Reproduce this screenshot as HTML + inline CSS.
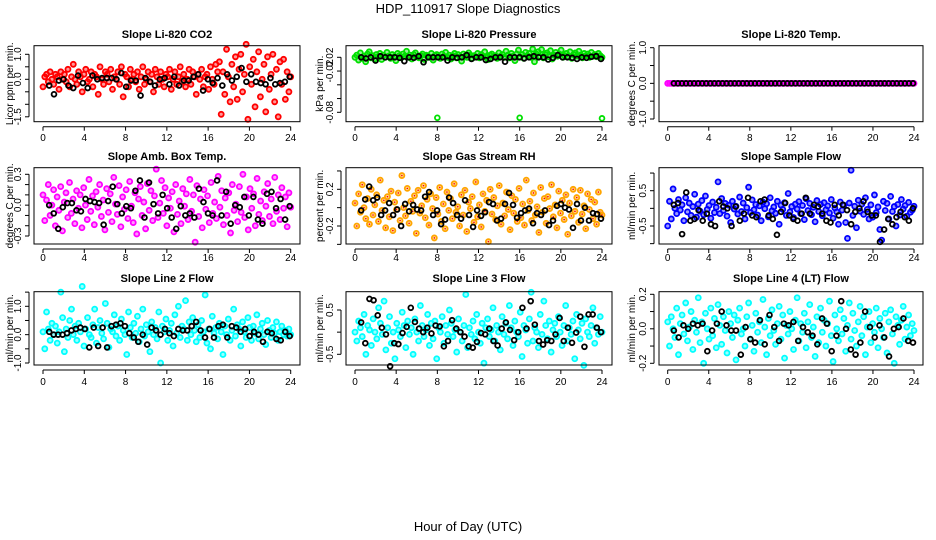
<!DOCTYPE html>
<html><head><meta charset="utf-8"><style>
body{margin:0;background:#fff}
svg{display:block;font-family:"Liberation Sans",sans-serif}
</style></head><body>
<svg id="chart" width="936" height="540" viewBox="0 0 936 540">
<text x="468" y="13" text-anchor="middle" font-size="13">HDP_110917  Slope Diagnostics</text>
<text x="468" y="531" text-anchor="middle" font-size="13">Hour of Day (UTC)</text>
</svg>
<script>
const hourTicks=[0,4,8,12,16,20,24];
const co2Vals=[-.3,.1,.2,-.1,.3,.0,-.2,.2,.1,-.4,.3,.0,.2,-.1,.4,-.3,.1,.6,.0,-.2,.3,.1,-.5,.2,.4,-.1,.0,.3,-.3,.2,.1,-.6,.5,.0,-.2,.3,.2,-.1,.4,-.4,.1,.0,.3,-.2,.5,-.7,.2,.1,-.3,.4,.0,.2,-.1,.3,-.4,.1,.5,-.2,.0,.3,-.1,.2,-.5,.4,.1,-.2,.3,.0,-.3,.2,.1,.4,-.4,.0,.3,-.2,.1,.5,-.1,.2,-.3,.0,.4,-.2,.3,.1,-.6,.2,.0,.4,-.3,.1,.2,-.4,.5,.0,-.2,.6,.3,.7,-1.4,.3,-.6,1.2,.1,-.9,.6,-.3,.9,-.8,.4,1.0,-.5,.2,1.4,-1.6,.5,-.2,.8,-1.1,.3,1.1,-.7,.0,.6,-1.3,.9,-.4,.2,1.0,-.9,.4,-1.5,.7,-.2,.8,-.8,.3,-.5,.1];
const co2Black=[-.25,-.6,-.05,.0,-.25,-.35,.15,-.15,-.35,.15,.0,.05,.05,.05,.0,.25,-.3,-.05,-.05,-.65,.05,-.1,-.25,.0,.05,-.2,.1,-.25,-.05,-.05,.1,.2,-.45,.0,-.15,.05,-.25,.2,-.05,.1,.45,-.1,.2,-.1,-.15,-.2,.05,-.2,-.15,-.1,.1];
const pressMilli=[20,24,15,28,18,22,12,26,30,19,23,17,25,21,27,16,24,20,29,22,18,25,21,14,27,23,19,26,22,31,20,24,17,25,28,21,19,23,26,16,24,22,20,27,15,23,25,21,18,26,22,29,20,24,17,23,27,19,25,21,13,26,22,20,28,24,18,23,21,27,19,25,22,30,20,16,24,26,21,23,18,28,22,25,20,31,24,19,27,22,14,26,33,21,25,18,29,23,27,20,35,12,26,30,22,34,19,25,28,21,32,17,24,29,22,26,33,20,23,27,21,30,18,25,28,22,31,24,19,27,23,26,20,29,22,25,21,27,23,20];
const pressBlackMilli=[20,18,20,14,22,20,20,20,19,13,20,19,22,11,20,20,20,20,14,20,19,20,24,17,20,20,15,17,20,20,12,20,20,20,18,20,22,20,20,16,19,24,20,20,19,17,20,19,21,22,17];
const pressOutHours=[8,16,24];
const pressOutMilli=[-90,-90,-91];
const tempVals=[0,0,0,0,0,0,0,0,0,0,0,0,0,0,0,0,0,0,0,0,0,0,0,0,0,0,0,0,0,0,0,0,0,0,0,0,0,0,0,0,0,0,0,0,0,0,0,0,0,0,0,0,0,0,0,0,0,0,0,0,0,0,0,0,0,0,0,0,0,0,0,0,0,0,0,0,0,0,0,0,0,0,0,0,0,0,0,0,0,0,0,0,0,0,0,0,0,0,0,0,0,0,0,0,0,0,0,0,0,0,0,0,0,0,0,0,0,0,0,0,0,0,0,0,0,0,0,0,0,0];
const tempBlack=[0,0,0,0,0,0,0,0,0,0,0,0,0,0,0,0,0,0,0,0,0,0,0,0,0,0,0,0,0,0,0,0,0,0,0,0,0,0,0,0,0,0,0,0,0,0,0,0,0,0,0,0,0,0,0,0,0,0,0,0];
const ambCenti=[10,-15,5,20,-10,0,15,-20,8,-5,18,-25,3,12,-12,22,-8,6,-18,14,-3,10,-22,17,0,-14,25,-6,9,-19,13,-2,20,-11,5,-24,16,-7,11,-16,27,1,-9,19,-21,8,-4,15,-13,23,-1,-17,12,-28,6,18,-10,3,-23,21,-5,14,-15,9,35,-12,2,24,-8,17,-20,7,-3,13,-26,20,-9,4,-18,16,-1,11,-14,25,-6,10,-36,19,-11,6,-22,15,-4,9,-17,22,-8,3,-13,28,-2,14,-19,7,-10,12,-27,20,-5,1,-16,18,-7,30,-12,8,-24,16,-3,11,-20,26,-9,4,-15,13,-1,21,-11,6,-18,27,-6,10,-14,17,-3,8,-21,12,-2];
const ambBlackCenti=[0,-8,-23,-2,2,2,-5,-6,6,4,3,2,-19,4,18,1,-8,-1,-3,14,24,-12,22,1,-8,10,-3,-12,-23,-1,-10,-8,-12,16,3,-8,-10,24,-10,13,-18,0,-2,8,-10,8,-14,-18,11,13,-3,6,-14,-1];
const rhCenti=[5,-20,15,-5,25,0,-12,10,-18,20,-8,3,14,-15,30,-3,8,-22,12,-10,18,-25,6,-2,16,-14,35,0,-9,21,-17,7,-4,13,-28,19,-6,2,24,-11,9,-19,15,-1,-33,11,-7,22,-15,4,-23,17,-3,10,-12,26,-5,1,-20,14,-8,19,-26,6,-1,12,-16,28,-10,3,-21,15,-4,8,-37,20,-7,11,-13,2,24,-18,5,-9,17,-2,-24,13,-6,9,-15,21,-11,4,-19,30,-3,7,-14,16,-8,1,-27,22,-5,10,-17,12,-1,25,-10,3,-22,18,-6,8,-13,14,-29,5,-9,20,-4,11,-16,19,-7,2,-23,15,-2,9,-12,6,-18,17,-5,-8];
const rhBlackCenti=[-3,9,23,8,11,-8,-3,5,-8,-2,-20,4,-4,3,-2,-3,12,17,-8,-3,-18,-13,11,5,-8,-12,8,-8,-21,-3,-9,-5,6,4,-14,-12,4,16,3,-11,-6,-3,-1,-17,-6,-8,-3,-19,-14,2,4,0,-2,-22,4,-14,0,-14,-6,-7,-12];
const sampleCenti=[-50,20,-30,55,0,-15,25,-5,10,-35,30,-10,15,-20,5,40,-25,12,-8,22,-18,35,-3,8,-28,18,-12,3,75,-15,28,-6,14,-22,9,-40,20,-2,6,-16,32,-9,15,-30,2,60,-12,24,-4,11,-19,7,-35,18,-1,13,-24,30,-7,4,-14,20,-45,9,-3,16,-20,42,-10,5,-26,12,-2,19,-15,8,-32,27,-6,14,-18,3,-38,22,-9,11,-21,16,-4,7,-13,25,-28,1,-10,-45,18,-5,9,-40,-85,15,108,-20,6,-55,23,-8,12,-17,30,-3,-30,10,-25,38,-12,4,-60,-90,20,-6,14,-30,34,-9,5,-50,11,-19,25,-2,8,-22,17,-11,-5,6];
const sampleBlackCenti=[10,15,-73,45,-35,-30,-5,-35,-15,-45,-50,20,5,0,-50,5,-35,-15,30,-20,-25,20,25,-20,-30,-75,-10,15,-20,-30,-35,-15,30,-15,10,5,-15,-35,-40,10,-20,10,-5,-45,-10,0,20,-10,-20,-20,-95,-60,-30,-45,-25,-10,-25,-35,0];
const line2Centi=[10,-50,80,20,-20,40,0,30,-30,10,150,60,-60,20,-10,50,90,0,30,-20,40,10,170,-40,20,60,0,-10,35,90,-30,25,50,5,-15,110,40,-45,20,10,70,-5,30,-20,55,15,0,-70,80,25,-10,40,5,65,-25,20,90,-5,35,10,-60,45,0,25,-15,80,-100,30,10,55,-20,15,40,-40,70,5,100,-10,30,20,120,-20,45,0,60,15,-25,35,-10,50,10,140,-30,20,-50,65,5,25,-15,40,10,-70,30,0,55,-20,15,90,-5,35,20,-40,45,10,-10,60,25,-20,30,5,70,-15,20,40,0,-35,50,15,-10,25,5,45,-20,10,30,0,15,-5,20,0];
const line2BlackCenti=[10,0,0,0,5,15,20,25,20,-45,25,-40,25,-45,30,35,40,30,5,-10,-25,0,-35,25,15,0,20,5,-5,20,15,15,30,45,15,-10,20,-10,30,35,-10,30,25,10,20,-5,10,0,-25,10,5,-15,-20,10,-5];
const line3Centi=[0,-20,25,10,-10,40,-50,15,5,-30,30,0,-15,55,20,-5,70,-40,10,35,-25,0,-60,20,5,-10,45,15,-35,25,-5,10,-50,30,0,-20,60,15,-10,5,40,-30,20,-15,25,-60,10,0,35,-25,15,-5,50,20,-10,5,-45,30,0,-20,15,85,-35,10,-5,25,-15,40,0,-25,20,-70,10,30,-10,5,55,-20,15,0,-40,35,-5,20,-15,60,10,-30,25,0,-10,45,-55,15,5,-25,30,90,-20,10,0,-35,40,-5,70,15,-15,25,-45,5,20,-10,35,0,-30,15,60,-20,10,-5,25,-60,40,5,-15,20,-75,30,0,-10,15,55,-25,10,-5,35,0];
const line3BlackCenti=[22,-25,75,72,38,10,-5,-77,-25,-27,-2,12,55,23,8,0,10,-3,15,13,-32,-20,27,8,0,-10,-32,-35,-22,-2,-5,8,-20,-30,8,22,5,-18,0,55,8,70,17,-20,-28,-18,-20,-5,32,-20,10,-24,-1,35,-33,40,40,10,0];
const line4Centi=[4,-10,7,0,-5,12,-15,3,8,-3,15,-7,1,10,-12,5,-2,18,-8,4,-20,9,0,-6,12,-4,6,-11,14,2,-9,7,-1,-14,10,3,-5,8,-18,5,12,-3,0,-10,7,15,-6,2,-13,9,-2,4,-8,17,1,-15,6,-4,11,-1,-9,3,13,-6,8,-17,2,-3,10,0,-12,5,18,-7,3,-2,9,-11,4,14,-5,1,-16,7,-8,12,-2,5,-10,3,16,-4,-19,8,0,-7,11,-3,6,-13,2,15,-6,9,-1,-10,4,13,-4,7,-15,1,10,-8,3,-2,12,-11,6,0,-5,9,-14,4,11,-3,-20,7,2,-9,5,13,-6,1,8,-4,3,-1];
const line4BlackCenti=[-1,-5,2,0,3,2,3,-13,-1,3,10,2,-1,-1,-15,1,-6,-8,5,-9,8,1,-7,3,2,4,-7,1,-2,-4,-9,6,3,-13,-4,16,0,-12,-15,-8,10,1,-5,2,-5,-16,0,1,6,-7,-8];

const NS='http://www.w3.org/2000/svg';
const svg=document.getElementById('chart');
function mk(tag,attrs,parent){const e=document.createElementNS(NS,tag);for(const k in attrs)e.setAttribute(k,attrs[k]);(parent||svg).appendChild(e);return e;}
const cols=[{l:34,r:300,x0:43,x24:290.7,yl:10},{l:346,r:612,x0:355,x24:602,yl:320},{l:659,r:923,x0:667.7,x24:914,yl:632}];
const rows=[{t:45.7,b:121.7,title:38,lab:141},{t:167.7,b:244,title:160,lab:261},{t:291.7,b:365,title:282,lab:385}];
const panels=[
 {r:0,c:0,name:'co2',title:'Slope Li-820 CO2',ylab:'Licor ppm per min.',v1:1,p1:54.3,v2:0,p2:79.3,ticks:[-1.5,-1,-0.5,0,0.5,1],labels:[[1,'1.0'],[0,'0.0'],[-1.5,'-1.5']],color:'#ff0000',vals:co2Vals,black:co2Black},
 {r:0,c:1,name:'pressure',title:'Slope Li-820 Pressure',ylab:'kPa per min.',v1:20,p1:57.3,v2:-80,p2:112.3,ticks:[20,-5,-30,-55,-80],labels:[[20,'0.02'],[-5,'-0.02'],[-80,'-0.08']],color:'#00e000',vals:pressMilli,black:pressBlackMilli,outH:pressOutHours,outV:pressOutMilli},
 {r:0,c:2,name:'temp',title:'Slope Li-820 Temp.',ylab:'degrees C per min.',v1:1,p1:47.7,v2:-1,p2:119,ticks:[-1,-0.5,0,0.5,1],labels:[[1,'1.0'],[0,'0.0'],[-1,'-1.0']],color:'#ff00ff',vals:tempVals,black:tempBlack},
 {r:1,c:0,name:'amb-box-temp',title:'Slope Amb. Box Temp.',ylab:'degrees C per min.',v1:30,p1:174.3,v2:-30,p2:236,ticks:[-30,-20,-10,0,10,20,30],labels:[[30,'0.3'],[0,'0.0'],[-30,'-0.3']],color:'#ff00ff',vals:ambCenti,black:ambBlackCenti},
 {r:1,c:1,name:'gas-stream-rh',title:'Slope Gas Stream RH',ylab:'percent per min.',v1:20,p1:189.3,v2:-20,p2:226,ticks:[-40,-20,0,20,40],labels:[[20,'0.2'],[-20,'-0.2']],color:'#ffa500',vals:rhCenti,black:rhBlackCenti,inner:'#ff0000'},
 {r:1,c:2,name:'sample-flow',title:'Slope Sample Flow',ylab:'ml/min per min.',v1:50,p1:190.7,v2:-50,p2:226,ticks:[-100,-50,0,50,100],labels:[[50,'0.5'],[-50,'-0.5']],color:'#0000ff',vals:sampleCenti,black:sampleBlackCenti},
 {r:2,c:0,name:'line2-flow',title:'Slope Line 2 Flow',ylab:'ml/min per min.',v1:100,p1:306.3,v2:-100,p2:363,ticks:[-100,-50,0,50,100,150],labels:[[100,'1.0'],[0,'0.0'],[-100,'-1.0']],color:'#00ffff',vals:line2Centi,black:line2BlackCenti},
 {r:2,c:1,name:'line3-flow',title:'Slope Line 3 Flow',ylab:'ml/min per min.',v1:50,p1:310,v2:-50,p2:354.3,ticks:[-50,0,50],labels:[[50,'0.5'],[-50,'-0.5']],color:'#00ffff',vals:line3Centi,black:line3BlackCenti},
 {r:2,c:2,name:'line4-flow',title:'Slope Line 4 (LT) Flow',ylab:'ml/min per min.',v1:20,p1:294.3,v2:-20,p2:363.3,ticks:[-20,-10,0,10,20],labels:[[20,'0.2'],[0,'0.0'],[-20,'-0.2']],color:'#00ffff',vals:line4Centi,black:line4BlackCenti}
];
panels.forEach(p=>{
 const C=cols[p.c],R=rows[p.r];
 const xs=h=>C.x0+(C.x24-C.x0)*h/24;
 const ys=v=>p.p1+(v-p.v1)*(p.p2-p.p1)/(p.v2-p.v1);
 const g=mk('g',{});
 
 
 const t=mk('text',{x:(C.l+C.r)/2,y:R.title,'text-anchor':'middle','font-size':'11','font-weight':'bold'},g);t.textContent=p.title;
 
 const yl=mk('text',{x:C.yl,y:(R.t+R.b)/2,'text-anchor':'middle','font-size':'10',transform:`rotate(-90 ${C.yl} ${(R.t+R.b)/2})`,dy:'3'},g);yl.textContent=p.ylab;
 
 const pts=mk('g',{fill:p.color,'fill-opacity':'0.4','stroke-width':'1.8'},g);
 
 const n=p.vals.length;
 p.vals.forEach((v,i)=>{const h=24*i/(n-1);const c=mk('circle',{cx:xs(h),cy:ys(v),r:2.5,stroke:p.color},pts);
  
  if(p.inner){mk('circle',{cx:xs(h),cy:ys(v),r:0.8,fill:p.inner,'fill-opacity':'1',stroke:'none'},pts);}});
 if(p.outH){p.outH.forEach((h,i)=>{const c=mk('circle',{cx:xs(h),cy:ys(p.outV[i]),r:2.4,stroke:p.color,fill:'none'},pts);
  });}
 const bg=mk('g',{fill:'none','stroke-width':'1.8'},g);
 
 const m=p.black.length;
 p.black.forEach((v,i)=>{const h=0.6+23.3*i/(m-1);const c=mk('circle',{cx:xs(h),cy:ys(v),r:2.4,stroke:'#000'},bg);
  });
 mk('rect',{x:C.l,y:R.t,width:C.r-C.l,height:R.b-R.t,fill:'none',stroke:'#000','stroke-width':'1'},g);
 const xa=mk('g',{},g);
 mk('line',{x1:xs(0),x2:xs(24),y1:R.b+5,y2:R.b+5,stroke:'#000'},xa);
 hourTicks.forEach(h=>{mk('line',{x1:xs(h),x2:xs(h),y1:R.b+5,y2:R.b+9,stroke:'#000'},xa);
  const tl=mk('text',{x:xs(h),y:R.lab,'text-anchor':'middle','font-size':'10'},xa);tl.textContent=h;
  });
 const ya=mk('g',{},g);
 const tv=p.ticks;const ax=C.l-5;
 mk('line',{x1:ax,x2:ax,y1:ys(Math.min(...tv)),y2:ys(Math.max(...tv)),stroke:'#000'},ya);
 tv.forEach(v=>mk('line',{x1:ax-4,x2:ax,y1:ys(v),y2:ys(v),stroke:'#000'},ya));
 p.labels.forEach(([v,s])=>{const lx=ax-8;const tl=mk('text',{x:lx,y:ys(v),'text-anchor':'middle','font-size':'10',transform:`rotate(-90 ${lx} ${ys(v)})`},ya);tl.textContent=s;
  });
});
</script>
</body></html>
